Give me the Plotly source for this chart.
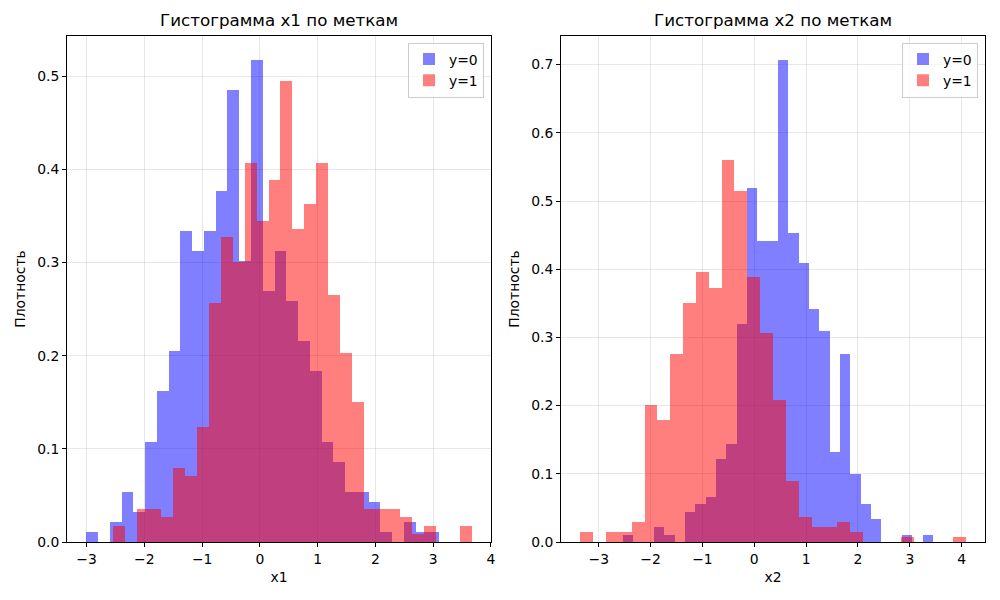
import plotly.graph_objects as go

# ── Data: density histograms (30 bins per series) ────────────────────────────
# x1 feature
X1_Y0_START, X1_Y0_WIDTH = -3.005, 0.2037
X1_Y0 = [0.0108, 0.0, 0.0216, 0.0539, 0.0323, 0.1078, 0.1617, 0.2048, 0.3342, 0.3126,
         0.3342, 0.3773, 0.4851, 0.3018, 0.5174, 0.2695, 0.3126, 0.2587, 0.2156, 0.1833,
         0.1078, 0.0862, 0.0539, 0.0539, 0.0431, 0.0108, 0.0, 0.0216, 0.0108, 0.0108]
X1_Y1_START, X1_Y1_WIDTH = -2.54, 0.2069
X1_Y1 = [0.0177, 0.0, 0.0354, 0.0354, 0.0265, 0.0796, 0.0707, 0.1238, 0.2564, 0.3271,
         0.3006, 0.4066, 0.3448, 0.3890, 0.4950, 0.3359, 0.3624, 0.4066, 0.2652, 0.2033,
         0.1503, 0.0354, 0.0354, 0.0354, 0.0265, 0.0088, 0.0177, 0.0, 0.0, 0.0177]

# x2 feature
X2_Y0_START, X2_Y0_WIDTH = -2.53, 0.1993
X2_Y0 = [0.0110, 0.0, 0.0, 0.0221, 0.0110, 0.0, 0.0442, 0.0552, 0.0662, 0.1214,
         0.1435, 0.3202, 0.5189, 0.4416, 0.4416, 0.7066, 0.4526, 0.4085, 0.3422, 0.3091,
         0.1325, 0.2760, 0.0994, 0.0552, 0.0331, 0.0, 0.0, 0.0110, 0.0, 0.0110]
X2_Y1_START, X2_Y1_WIDTH = -3.356, 0.2478
X2_Y1 = [0.0149, 0.0, 0.0149, 0.0149, 0.0298, 0.2014, 0.1790, 0.2760, 0.3506, 0.3954,
         0.3730, 0.5595, 0.5147, 0.3879, 0.3059, 0.2089, 0.0895, 0.0373, 0.0224, 0.0224,
         0.0298, 0.0149, 0.0, 0.0, 0.0, 0.0075, 0.0, 0.0, 0.0, 0.0075]

X_TICKS = [-3, -2, -1, 0, 1, 2, 3, 4]
X_TICK_TEXT = ['\u22123', '\u22122', '\u22121', '0', '1', '2', '3', '4']
Y1_TICKS = [0.0, 0.1, 0.2, 0.3, 0.4, 0.5]
Y2_TICKS = [0.0, 0.1, 0.2, 0.3, 0.4, 0.5, 0.6, 0.7]

# ── Style ────────────────────────────────────────────────────────────────────
BLUE = 'rgba(0,0,255,0.5)'
RED = 'rgba(255,0,0,0.5)'
GRID = 'rgba(176,176,176,0.3)'
FONT = 'DejaVu Sans'
# page has an 8px body margin, so the figure is 8px smaller and margins shifted
W, H = 992, 592
ML, MR, MT, MB = 59, 15, 28, 58
PAGE_OFF = 8


def edges(start, width, n):
    return [start + i * width for i in range(n + 1)]


def hist_bar(start, width, dens, color, name, xa, ya, legend):
    left = edges(start, width, len(dens))[:-1]
    return go.Bar(x=left, y=dens, width=width, offset=0, name=name,
                  marker=dict(color=color, line=dict(width=0)),
                  xaxis=xa, yaxis=ya, legend=legend,
                  hovertemplate=name + '<br>%{x:.2f}: %{y:.3f}<extra></extra>')


def padded(lo, hi, frac=0.05):
    p = (hi - lo) * frac
    return [lo - p, hi + p]


fig = go.Figure()
fig.add_trace(hist_bar(X1_Y0_START, X1_Y0_WIDTH, X1_Y0, BLUE, 'y=0', 'x', 'y', 'legend'))
fig.add_trace(hist_bar(X1_Y1_START, X1_Y1_WIDTH, X1_Y1, RED, 'y=1', 'x', 'y', 'legend'))
fig.add_trace(hist_bar(X2_Y0_START, X2_Y0_WIDTH, X2_Y0, BLUE, 'y=0', 'x2', 'y2', 'legend2'))
fig.add_trace(hist_bar(X2_Y1_START, X2_Y1_WIDTH, X2_Y1, RED, 'y=1', 'x2', 'y2', 'legend2'))

x1_range = padded(min(X1_Y0_START, X1_Y1_START),
                  max(X1_Y0_START + 30 * X1_Y0_WIDTH, X1_Y1_START + 30 * X1_Y1_WIDTH))
x2_range = padded(min(X2_Y0_START, X2_Y1_START),
                  max(X2_Y0_START + 30 * X2_Y0_WIDTH, X2_Y1_START + 30 * X2_Y1_WIDTH))
y1_range = [0, 1.05 * max(X1_Y0 + X1_Y1)]
y2_range = [0, 1.05 * max(X2_Y0 + X2_Y1)]

pw = W - ML - MR
x0 = PAGE_OFF + ML
d1 = [0, (491 - x0) / pw]
d2 = [(561 - x0) / pw, 1]

axis_common = dict(showline=True, mirror=True, linecolor='black', linewidth=1,
                   ticks='outside', ticklen=4, tickwidth=0.8, tickcolor='black',
                   showgrid=True, gridcolor=GRID, gridwidth=0.8, zeroline=False,
                   automargin=False,
                   tickfont=dict(family=FONT, size=13.9, color='black'))

legend_common = dict(bgcolor='rgba(255,255,255,0.8)', bordercolor='#cccccc', borderwidth=1,
                     font=dict(family=FONT, size=13.9, color='black'),
                     xanchor='right', yanchor='top', y=0.987)

fig.update_layout(
    width=W, height=H,
    margin=dict(l=ML, r=MR, t=MT, b=MB, autoexpand=False),
    paper_bgcolor='white', plot_bgcolor='white',
    barmode='overlay', bargap=0,
    font=dict(family=FONT, color='black'),
    xaxis=dict(domain=d1, range=x1_range, anchor='y', tickvals=X_TICKS, ticktext=X_TICK_TEXT,
               title=dict(text='x1', font=dict(size=13.9), standoff=6), **axis_common),
    yaxis=dict(domain=[0, 1], range=y1_range, anchor='x', tickvals=Y1_TICKS, tickformat='.1f',
               title=dict(text='Плотность', font=dict(size=13.9), standoff=8), **axis_common),
    xaxis2=dict(domain=d2, range=x2_range, anchor='y2', tickvals=X_TICKS, ticktext=X_TICK_TEXT,
                title=dict(text='x2', font=dict(size=13.9), standoff=6), **axis_common),
    yaxis2=dict(domain=[0, 1], range=y2_range, anchor='x2', tickvals=Y2_TICKS, tickformat='.1f',
                title=dict(text='Плотность', font=dict(size=13.9), standoff=8), **axis_common),
    legend=dict(x=d1[1] - 7 / pw, **legend_common),
    legend2=dict(x=d2[1] - 7 / pw, **legend_common),
    annotations=[
        dict(text='Гистограмма x1 по меткам', x=(d1[0] + d1[1]) / 2, y=1, xref='paper', yref='paper',
             xanchor='center', yanchor='bottom', yshift=4, showarrow=False,
             font=dict(family=FONT, size=16.7, color='black')),
        dict(text='Гистограмма x2 по меткам', x=(d2[0] + d2[1]) / 2, y=1, xref='paper', yref='paper',
             xanchor='center', yanchor='bottom', yshift=4, showarrow=False,
             font=dict(family=FONT, size=16.7, color='black')),
    ],
)

fig.write_html("out.html")
